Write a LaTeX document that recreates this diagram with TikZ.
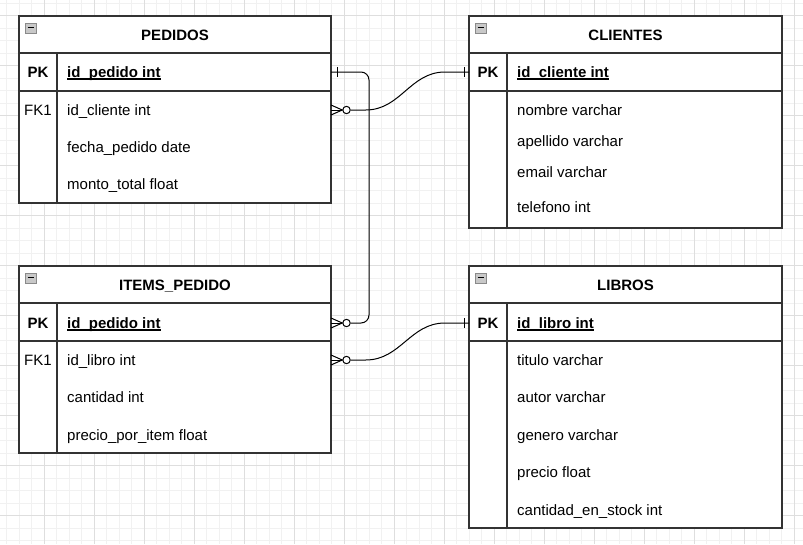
\documentclass[tikz,border=0pt]{standalone}
\usepackage{fontspec}
\setmainfont{Liberation Sans}
\definecolor{gridminor}{HTML}{F1F1F1}
\definecolor{gridmajor}{HTML}{DEDEDE}
\definecolor{tblline}{HTML}{333333}
\definecolor{iconfill}{HTML}{C8C8C8}
\definecolor{iconline}{HTML}{8A8A8A}
\begin{document}
\begin{tikzpicture}[x=1pt,y=-1pt,
  tbl/.style={draw=tblline,line width=1.3pt},
  rel/.style={draw=black,line width=1pt},
  txt/.style={inner sep=0pt,text height=10.8pt,text depth=0pt,font=\fontsize{15}{18}\selectfont},
  fld/.style={txt,anchor=west},
  ttl/.style={txt,font=\fontsize{15}{18}\selectfont\bfseries},
  zcirc/.style={circle,draw=black,line width=1pt,fill=white,minimum size=7.4pt,inner sep=0pt},
  icon/.style={draw=iconline,fill=iconfill,line width=0.8pt}]

\useasboundingbox[fill=white] (0,0) rectangle (803,544);

% grid
\foreach \gx in {6.8,19.3,...,803} \draw[gridminor,line width=0.8pt] (\gx,0) -- (\gx,544);
\foreach \gy in {3.1,15.6,...,544} \draw[gridminor,line width=0.8pt] (0,\gy) -- (803,\gy);
\foreach \gx in {44.3,94.3,...,803} \draw[gridmajor,line width=0.8pt] (\gx,0) -- (\gx,544);
\foreach \gy in {15.6,65.6,...,544} \draw[gridmajor,line width=0.8pt] (0,\gy) -- (803,\gy);

% PEDIDOS
\draw[tbl,fill=white] (19,16) rectangle (331,203);
\draw[tbl] (19,53) -- (331,53);
\draw[tbl] (19,91) -- (331,91);
\draw[tbl] (57,53) -- (57,203);
\draw[icon] (25,23) rectangle (36,33);
\draw[line width=1.2pt] (27.5,27.5) -- (33.5,27.5);
\node[ttl] (pedT) at (175,35) {PEDIDOS};
\node[ttl] (pedK) at (38,72) {PK};
\node[ttl,anchor=west] (pkPed) at (67,72) {id\_pedido int};
\draw[line width=1.1pt] ([yshift=-1.6pt]pkPed.base west) -- ([yshift=-1.6pt]pkPed.base east);
\node[txt] (pedF) at (38,110) {FK1};
\node[fld] (ped1) at (67,110) {id\_cliente int};
\node[fld] (ped2) at (67,147) {fecha\_pedido date};
\node[fld] (ped3) at (67,184) {monto\_total float};

% CLIENTES
\draw[tbl,fill=white] (469,16) rectangle (782,228);
\draw[tbl] (469,53) -- (782,53);
\draw[tbl] (469,91) -- (782,91);
\draw[tbl] (507,53) -- (507,228);
\draw[icon] (475,23) rectangle (486,33);
\draw[line width=1.2pt] (477.5,27.5) -- (483.5,27.5);
\node[ttl] (cliT) at (625.5,35) {CLIENTES};
\node[ttl] (cliK) at (488,72) {PK};
\node[ttl,anchor=west] (pkCli) at (517,72) {id\_cliente int};
\draw[line width=1.1pt] ([yshift=-1.6pt]pkCli.base west) -- ([yshift=-1.6pt]pkCli.base east);
\node[fld] (cli1) at (517,110) {nombre varchar};
\node[fld] (cli2) at (517,141) {apellido varchar};
\node[fld] (cli3) at (517,172) {email varchar};
\node[fld] (cli4) at (517,207) {telefono int};

% ITEMS_PEDIDO
\draw[tbl,fill=white] (19,266) rectangle (331,453);
\draw[tbl] (19,303) -- (331,303);
\draw[tbl] (19,341) -- (331,341);
\draw[tbl] (57,303) -- (57,453);
\draw[icon] (25,273) rectangle (36,283);
\draw[line width=1.2pt] (27.5,277.5) -- (33.5,277.5);
\node[ttl] (itT) at (175,285) {ITEMS\_PEDIDO};
\node[ttl] (itK) at (38,323) {PK};
\node[ttl,anchor=west] (pkIt) at (67,323) {id\_pedido int};
\draw[line width=1.1pt] ([yshift=-1.6pt]pkIt.base west) -- ([yshift=-1.6pt]pkIt.base east);
\node[txt] (itF) at (38,360) {FK1};
\node[fld] (it1) at (67,360) {id\_libro int};
\node[fld] (it2) at (67,397) {cantidad int};
\node[fld] (it3) at (67,435) {precio\_por\_item float};

% LIBROS
\draw[tbl,fill=white] (469,266) rectangle (782,528);
\draw[tbl] (469,303) -- (782,303);
\draw[tbl] (469,341) -- (782,341);
\draw[tbl] (507,303) -- (507,528);
\draw[icon] (475,273) rectangle (486,283);
\draw[line width=1.2pt] (477.5,277.5) -- (483.5,277.5);
\node[ttl] (libT) at (625.5,285) {LIBROS};
\node[ttl] (libK) at (488,323) {PK};
\node[ttl,anchor=west] (pkLib) at (517,323) {id\_libro int};
\draw[line width=1.1pt] ([yshift=-1.6pt]pkLib.base west) -- ([yshift=-1.6pt]pkLib.base east);
\node[fld] (lib1) at (517,360) {titulo varchar};
\node[fld] (lib2) at (517,397) {autor varchar};
\node[fld] (lib3) at (517,435) {genero varchar};
\node[fld] (lib4) at (517,472) {precio float};
\node[fld] (lib5) at (517,510) {cantidad\_en\_stock int};

% connectors
\coordinate (pedPK) at (331,72);
\coordinate (pedFK) at (331,110);
\coordinate (itPK) at (331,323);
\coordinate (itFK) at (331,360);
\coordinate (cliPK) at (469,72);
\coordinate (libPK) at (469,323);

\node[zcirc] (o1) at (346.5,323) {};
\node[zcirc] (o2) at (346.5,110) {};
\node[zcirc] (o3) at (346.5,360) {};

\draw[rel,rounded corners=8pt] (pedPK) -- ++(38,0) |- (o1.east);
\draw[rel] ([xshift=6pt,yshift=5pt]pedPK) -- ([xshift=6pt,yshift=-5pt]pedPK);
\draw[rel] (itPK) -- (o1.west);
\draw[rel] ([yshift=5pt]itPK) -- (o1.west) -- ([yshift=-5pt]itPK);

\draw[rel] (o2.east) -- ++(15,0) .. controls +(35,0) and +(-35,0) .. ([xshift=-24pt]cliPK) -- (cliPK);
\draw[rel] ([xshift=-5pt,yshift=5pt]cliPK) -- ([xshift=-5pt,yshift=-5pt]cliPK);
\draw[rel] (pedFK) -- (o2.west);
\draw[rel] ([yshift=5pt]pedFK) -- (o2.west) -- ([yshift=-5pt]pedFK);

\draw[rel] (o3.east) -- ++(15,0) .. controls +(35,0) and +(-35,0) .. ([xshift=-24pt]libPK) -- (libPK);
\draw[rel] ([xshift=-5pt,yshift=5pt]libPK) -- ([xshift=-5pt,yshift=-5pt]libPK);
\draw[rel] (itFK) -- (o3.west);
\draw[rel] ([yshift=5pt]itFK) -- (o3.west) -- ([yshift=-5pt]itFK);

\end{tikzpicture}
\end{document}
